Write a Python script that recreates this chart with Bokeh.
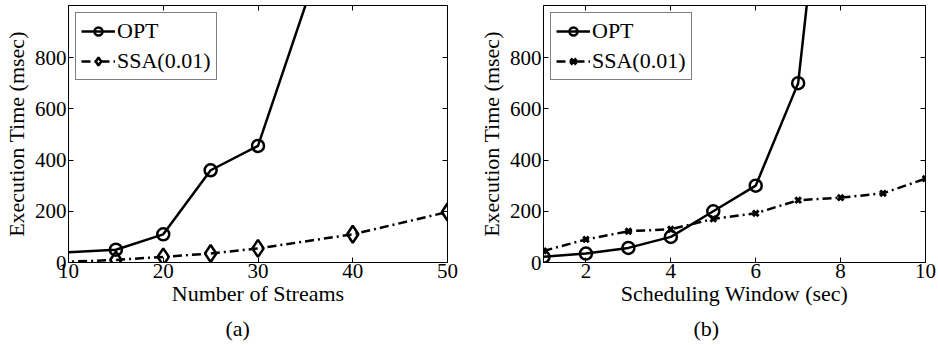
from bokeh.plotting import figure
from bokeh.layouts import row
from bokeh.models import LinearAxis, FixedTicker, Range1d, Title, Legend, LegendItem
from bokeh.embed import file_html
from bokeh.resources import INLINE

# ---- data: panel (a)
a_streams = [5, 10, 15, 20, 25, 30, 40]
a_opt = [30, 40, 50, 110, 360, 455, 1550]
a_opt_marker_x = [15, 20, 25, 30]
a_opt_marker_y = [50, 110, 360, 455]
a_ssa_x = [5, 10, 15, 20, 25, 30, 40, 50]
a_ssa = [1, 3, 10, 22, 35, 55, 110, 197]
a_ssa_marker_x = [15, 20, 25, 30, 40, 50]
a_ssa_marker_y = [10, 22, 35, 55, 110, 197]
a_xticks = [10, 20, 30, 40, 50]

# ---- data: panel (b)
b_window = [1, 2, 3, 4, 5, 6, 7, 8]
b_opt = [22, 35, 57, 100, 200, 300, 700, 2200]
b_ssa_x = [1, 2, 3, 4, 5, 6, 7, 8, 9, 10]
b_ssa = [45, 90, 122, 130, 170, 192, 243, 253, 270, 327]
b_xticks = [2, 4, 6, 8, 10]

y_ticks = [0, 200, 400, 600, 800]

FONT = "Liberation Serif"
TFS = "21px"
LFS = "22px"


def style(p, xticks, xlabel, ylabel, caption, cap_offset):
    p.outline_line_color = "black"
    p.outline_line_width = 1
    p.grid.visible = False
    for ax in p.xaxis + p.yaxis:
        ax.major_label_text_font = FONT
        ax.major_label_text_font_size = TFS
        ax.major_label_text_color = "black"
        ax.axis_label_text_font = FONT
        ax.axis_label_text_font_size = LFS
        ax.axis_label_text_font_style = "normal"
        ax.axis_label_text_color = "black"
        ax.major_tick_in = 5
        ax.major_tick_out = 0
        ax.minor_tick_line_color = None
        ax.axis_line_color = "black"
        ax.major_tick_line_color = "black"
    p.xaxis.ticker = FixedTicker(ticks=xticks)
    p.yaxis.ticker = FixedTicker(ticks=y_ticks)
    p.xaxis.axis_label = xlabel
    p.yaxis.axis_label = ylabel
    p.xaxis.axis_label_standoff = 0
    p.yaxis.axis_label_standoff = 3
    p.xaxis.major_label_standoff = 1
    p.yaxis.major_label_standoff = 2
    # mirrored tick axes (box on)
    top = LinearAxis(ticker=FixedTicker(ticks=xticks),
                     major_label_overrides={t: "" for t in xticks},
                     major_tick_in=5, major_tick_out=0, minor_tick_line_color=None,
                     axis_line_color=None, major_label_standoff=0)
    right = LinearAxis(ticker=FixedTicker(ticks=y_ticks),
                       major_label_overrides={t: "" for t in y_ticks},
                       major_tick_in=5, major_tick_out=0, minor_tick_line_color=None,
                       axis_line_color=None, major_label_standoff=0)
    p.add_layout(top, "above")
    p.add_layout(right, "right")
    t = Title(text=caption, align="left", offset=cap_offset, text_font=FONT,
              text_font_size=LFS, text_font_style="normal", text_color="black")
    p.add_layout(t, "below")


def make_legend(p, items, x_off):
    leg = Legend(items=items, location="top_left")
    leg.label_text_font = FONT
    leg.label_text_font_size = "22px"
    leg.label_text_color = "black"
    leg.border_line_color = "black"
    leg.border_line_width = 1
    leg.glyph_width = 34
    leg.glyph_height = 20
    leg.spacing = 4
    leg.padding = 5
    leg.margin = x_off
    leg.label_standoff = 2
    leg.background_fill_alpha = 1
    p.add_layout(leg)


# ---- panel (a)
pa = figure(frame_width=379, frame_height=257, output_backend="svg", toolbar_location=None,
            x_range=Range1d(10, 50), y_range=Range1d(0, 1003),
            min_border_left=10, min_border_right=21, min_border_top=5, min_border_bottom=5)
style(pa, a_xticks, "Number of Streams", "Execution Time (msec)", "(a)", 157)
l1 = pa.line(a_streams, a_opt, line_color="black", line_width=2.5)
m1 = pa.scatter(a_opt_marker_x, a_opt_marker_y, marker="circle", size=12, fill_color="white",
                fill_alpha=0, line_color="black", line_width=2.5)
l2 = pa.line(a_ssa_x, a_ssa, line_color="black", line_width=2.5, line_dash="9 4 2 4")
m2 = pa.scatter(a_ssa_marker_x, a_ssa_marker_y, marker="diamond", size=17, fill_color="white",
                fill_alpha=0, line_color="black", line_width=2.5)
make_legend(pa, [LegendItem(label="OPT", renderers=[l1, m1]),
                 LegendItem(label="SSA(0.01)", renderers=[l2, m2])], 7)

# ---- panel (b)
pb = figure(frame_width=382, frame_height=257, output_backend="svg", toolbar_location=None,
            x_range=Range1d(1, 10), y_range=Range1d(0, 1003),
            min_border_left=75, min_border_right=11, min_border_top=5, min_border_bottom=5)
style(pb, b_xticks, "Scheduling Window (sec)", "Execution Time (msec)", "(b)", 150)
l3 = pb.line(b_window, b_opt, line_color="black", line_width=2.5)
m3 = pb.scatter(b_window, b_opt, marker="circle", size=12, fill_color="white",
                fill_alpha=0, line_color="black", line_width=2.5)
l4 = pb.line(b_ssa_x, b_ssa, line_color="black", line_width=2.5, line_dash="9 4 2 4")
m4 = pb.scatter(b_ssa_x, b_ssa, marker="x", size=8, line_color="black", line_width=3)
make_legend(pb, [LegendItem(label="OPT", renderers=[l3, m3]),
                 LegendItem(label="SSA(0.01)", renderers=[l4, m4])], 7)

p = row(pa, pb)
open("out.html", "w").write(file_html(p, INLINE))
